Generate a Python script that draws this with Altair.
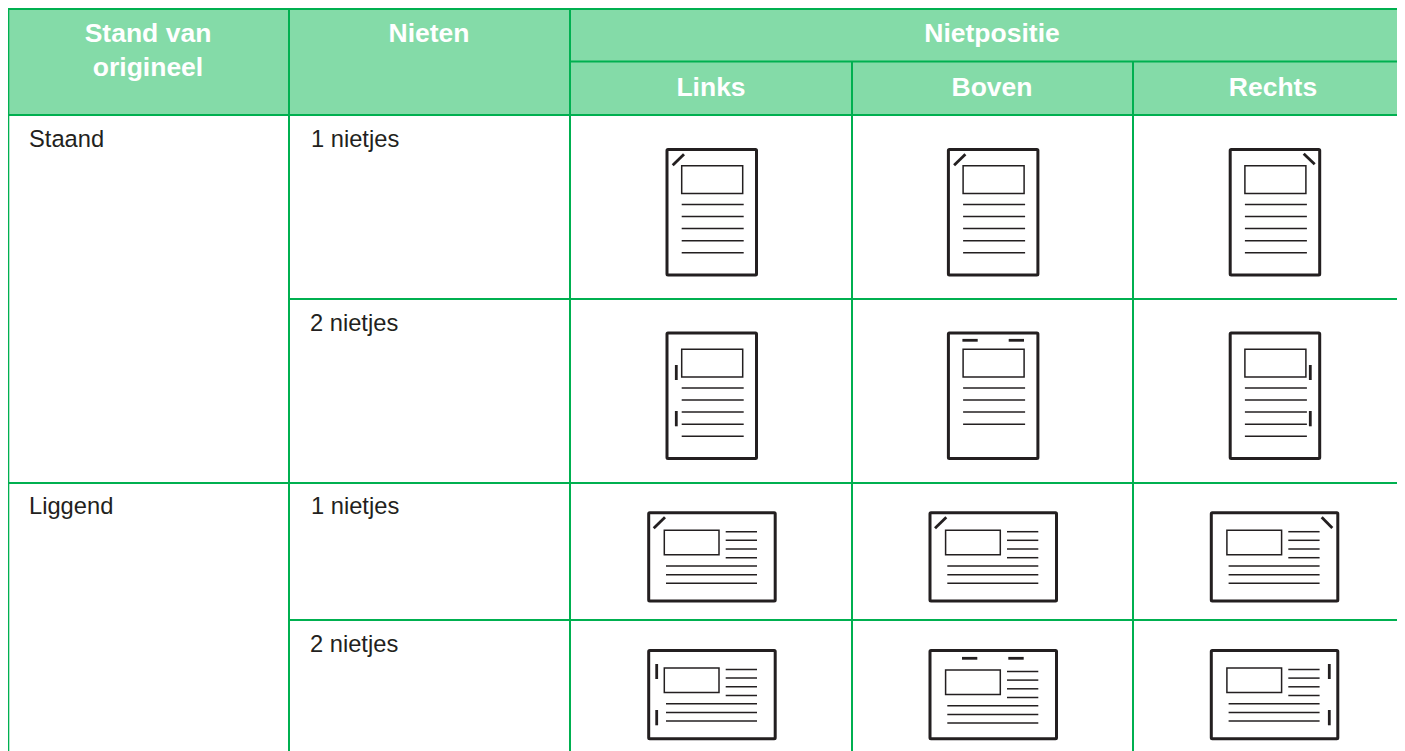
import altair as alt

# --- table geometry (page pixels) ---
col_edges = [8, 289, 570, 852, 1133, 1397]
row_edges = [8.5, 61.5, 115, 299, 483, 620, 751]

header_labels = ["Stand van", "origineel", "Nieten", "Nietpositie", "Links", "Boven", "Rechts"]
header_x = [148, 148, 429, 992, 711, 992, 1273]
header_y = [42, 76, 42, 42, 96, 96, 96]

body_labels = ["Staand", "1 nietjes", "2 nietjes", "Liggend", "1 nietjes", "2 nietjes"]
body_x = [29, 311, 310, 29, 311, 310]
body_y = [147, 147, 331, 514, 514, 652]

# grid rules: x0, x1, y0, y1
grid_x0 = [289, 570, 852, 1133, 570, 8, 289, 8, 289]
grid_x1 = [289, 570, 852, 1133, 1397, 1397, 1397, 1397, 1397]
grid_y0 = [8, 8, 61.5, 61.5, 61.5, 115, 299, 483, 620]
grid_y1 = [751, 751, 751, 751, 61.5, 115, 299, 483, 620]

# icon layouts, relative to the icon frame's top-left
portrait_size = (89.5, 125.5)
portrait_box = (14.7, 75.7, 16.3, 44)
portrait_lines_y = [54.9, 66.9, 79.1, 91.2, 103.3]
portrait_lines_x = (14.7, 76.7)

land_size = (126.5, 88.3)
land_box = (15.6, 70.3, 17.5, 42)
land_short_x = (77, 108.3)
land_short_y = [19, 27.6, 36.3, 45]
land_long_x = (17.3, 108.3)
land_long_y = [53.3, 62, 70.6]

col_left = [667, 948.4, 1230.2]
portrait_top = [149.5, 333]
land_left = [648.7, 930, 1211.3]
land_top = [512.7, 650.5]

# staples: (x0, x1, y0, y1) relative to the icon frame
portrait_diag_l = (5.7, 17, 15.8, 4.8)
portrait_diag_r = (73.5, 84.5, 4.2, 14.8)
portrait_edge_l = [(9.3, 9.3, 32, 47), (9.3, 9.3, 78, 93.3)]
portrait_edge_r = [(80.1, 80.1, 32, 47), (80.1, 80.1, 78, 93.3)]
portrait_edge_t = [(14, 29.3, 7.3, 7.3), (60.3, 75.6, 7.3, 7.3)]
land_diag_l = (5, 16.3, 15.6, 4.6)
land_diag_r = (110.4, 121, 4.6, 15.3)
land_edge_l = [(8, 8, 13.5, 28.5), (8, 8, 59.5, 74.8)]
land_edge_r = [(118, 118, 13.5, 28.5), (118, 118, 59.5, 74.8)]
land_edge_t = [(32, 47.3, 7.8, 7.8), (78.3, 93.7, 7.8, 7.8)]
land_top_content_shift = 2

frames, boxes, thin, staples = [], [], [], []


def seg(store, ox, oy, s, dy=0.0):
    store.append({"x": ox + s[0], "x2": ox + s[1], "y": oy + s[2] + dy, "y2": oy + s[3] + dy})


def portrait(ox, oy, marks, n_lines=5):
    seg(frames, ox, oy, (0, portrait_size[0], 0, portrait_size[1]))
    seg(boxes, ox, oy, portrait_box)
    for ly in portrait_lines_y[:n_lines]:
        seg(thin, ox, oy, (portrait_lines_x[0], portrait_lines_x[1], ly, ly))
    for m in marks:
        seg(staples, ox, oy, m)


def landscape(ox, oy, marks, dy=0.0):
    seg(frames, ox, oy, (0, land_size[0], 0, land_size[1]))
    seg(boxes, ox, oy, land_box, dy)
    for ly in land_short_y:
        seg(thin, ox, oy, (land_short_x[0], land_short_x[1], ly, ly), dy)
    for ly in land_long_y:
        seg(thin, ox, oy, (land_long_x[0], land_long_x[1], ly, ly), dy)
    for m in marks:
        seg(staples, ox, oy, m)


portrait(col_left[0], portrait_top[0], [portrait_diag_l])
portrait(col_left[1], portrait_top[0], [portrait_diag_l])
portrait(col_left[2], portrait_top[0], [portrait_diag_r])
portrait(col_left[0], portrait_top[1], portrait_edge_l)
portrait(col_left[1], portrait_top[1], portrait_edge_t, n_lines=4)
portrait(col_left[2], portrait_top[1], portrait_edge_r)
landscape(land_left[0], land_top[0], [land_diag_l])
landscape(land_left[1], land_top[0], [land_diag_l])
landscape(land_left[2], land_top[0], [land_diag_r])
landscape(land_left[0], land_top[1], land_edge_l)
landscape(land_left[1], land_top[1], land_edge_t, dy=land_top_content_shift)
landscape(land_left[2], land_top[1], land_edge_r)

GREEN = "#00b050"
FILL = "#84dba8"
INK = "#231f20"
FONT = "Liberation Sans"

X = alt.X("x:Q", scale=alt.Scale(domain=[8, 1397], nice=False, zero=False), axis=None)
Y = alt.Y("y:Q", scale=alt.Scale(domain=[751, 8], nice=False, zero=False), axis=None)
enc = dict(x=X, y=Y, x2="x2:Q", y2="y2:Q")


def df(rows):
    return alt.Data(values=rows)


fill_rows = [{"x": col_edges[0], "x2": col_edges[-1], "y": row_edges[0], "y2": row_edges[2]}]
grid_rows = [
    {"x": a, "x2": b, "y": c, "y2": d}
    for a, b, c, d in zip(grid_x0, grid_x1, grid_y0, grid_y1)
]
top_rows = [{"x": 8, "x2": 1397, "y": row_edges[0], "y2": row_edges[0]}]
left_rows = [{"x": 8, "x2": 8, "y": 8, "y2": 751}]
head_rows = [{"x": a, "y": b, "t": t} for a, b, t in zip(header_x, header_y, header_labels)]
body_rows = [{"x": a, "y": b, "t": t} for a, b, t in zip(body_x, body_y, body_labels)]

layers = [
    alt.Chart(df(fill_rows)).mark_rect(fill=FILL).encode(**enc),
    alt.Chart(df(grid_rows)).mark_rule(color=GREEN, strokeWidth=2).encode(**enc),
    alt.Chart(df(top_rows)).mark_rule(color=GREEN, strokeWidth=2.8).encode(**enc),
    alt.Chart(df(left_rows)).mark_rule(color=GREEN, strokeWidth=2.6).encode(**enc),
    alt.Chart(df(frames)).mark_rect(fill="white", stroke=INK, strokeWidth=3, cornerRadius=1).encode(**enc),
    alt.Chart(df(boxes)).mark_rect(fill="white", stroke=INK, strokeWidth=1.5).encode(**enc),
    alt.Chart(df(thin)).mark_rule(color=INK, strokeWidth=1.5).encode(**enc),
    alt.Chart(df(staples)).mark_rule(color=INK, strokeWidth=2.8).encode(**enc),
    alt.Chart(df(head_rows)).mark_text(
        font=FONT, fontSize=26.5, fontWeight="bold", color="white", align="center", baseline="alphabetic"
    ).encode(x=X, y=Y, text="t:N"),
    alt.Chart(df(body_rows)).mark_text(
        font=FONT, fontSize=23.7, color=INK, align="left", baseline="alphabetic"
    ).encode(x=X, y=Y, text="t:N"),
]

chart = (
    alt.layer(*layers)
    .properties(width=1389, height=743, padding=0, background="white",
                autosize=alt.AutoSizeParams(type="none"))
    .configure_view(stroke=None)
)
chart.save("out.html", embed_options={"renderer": "svg", "actions": False})
